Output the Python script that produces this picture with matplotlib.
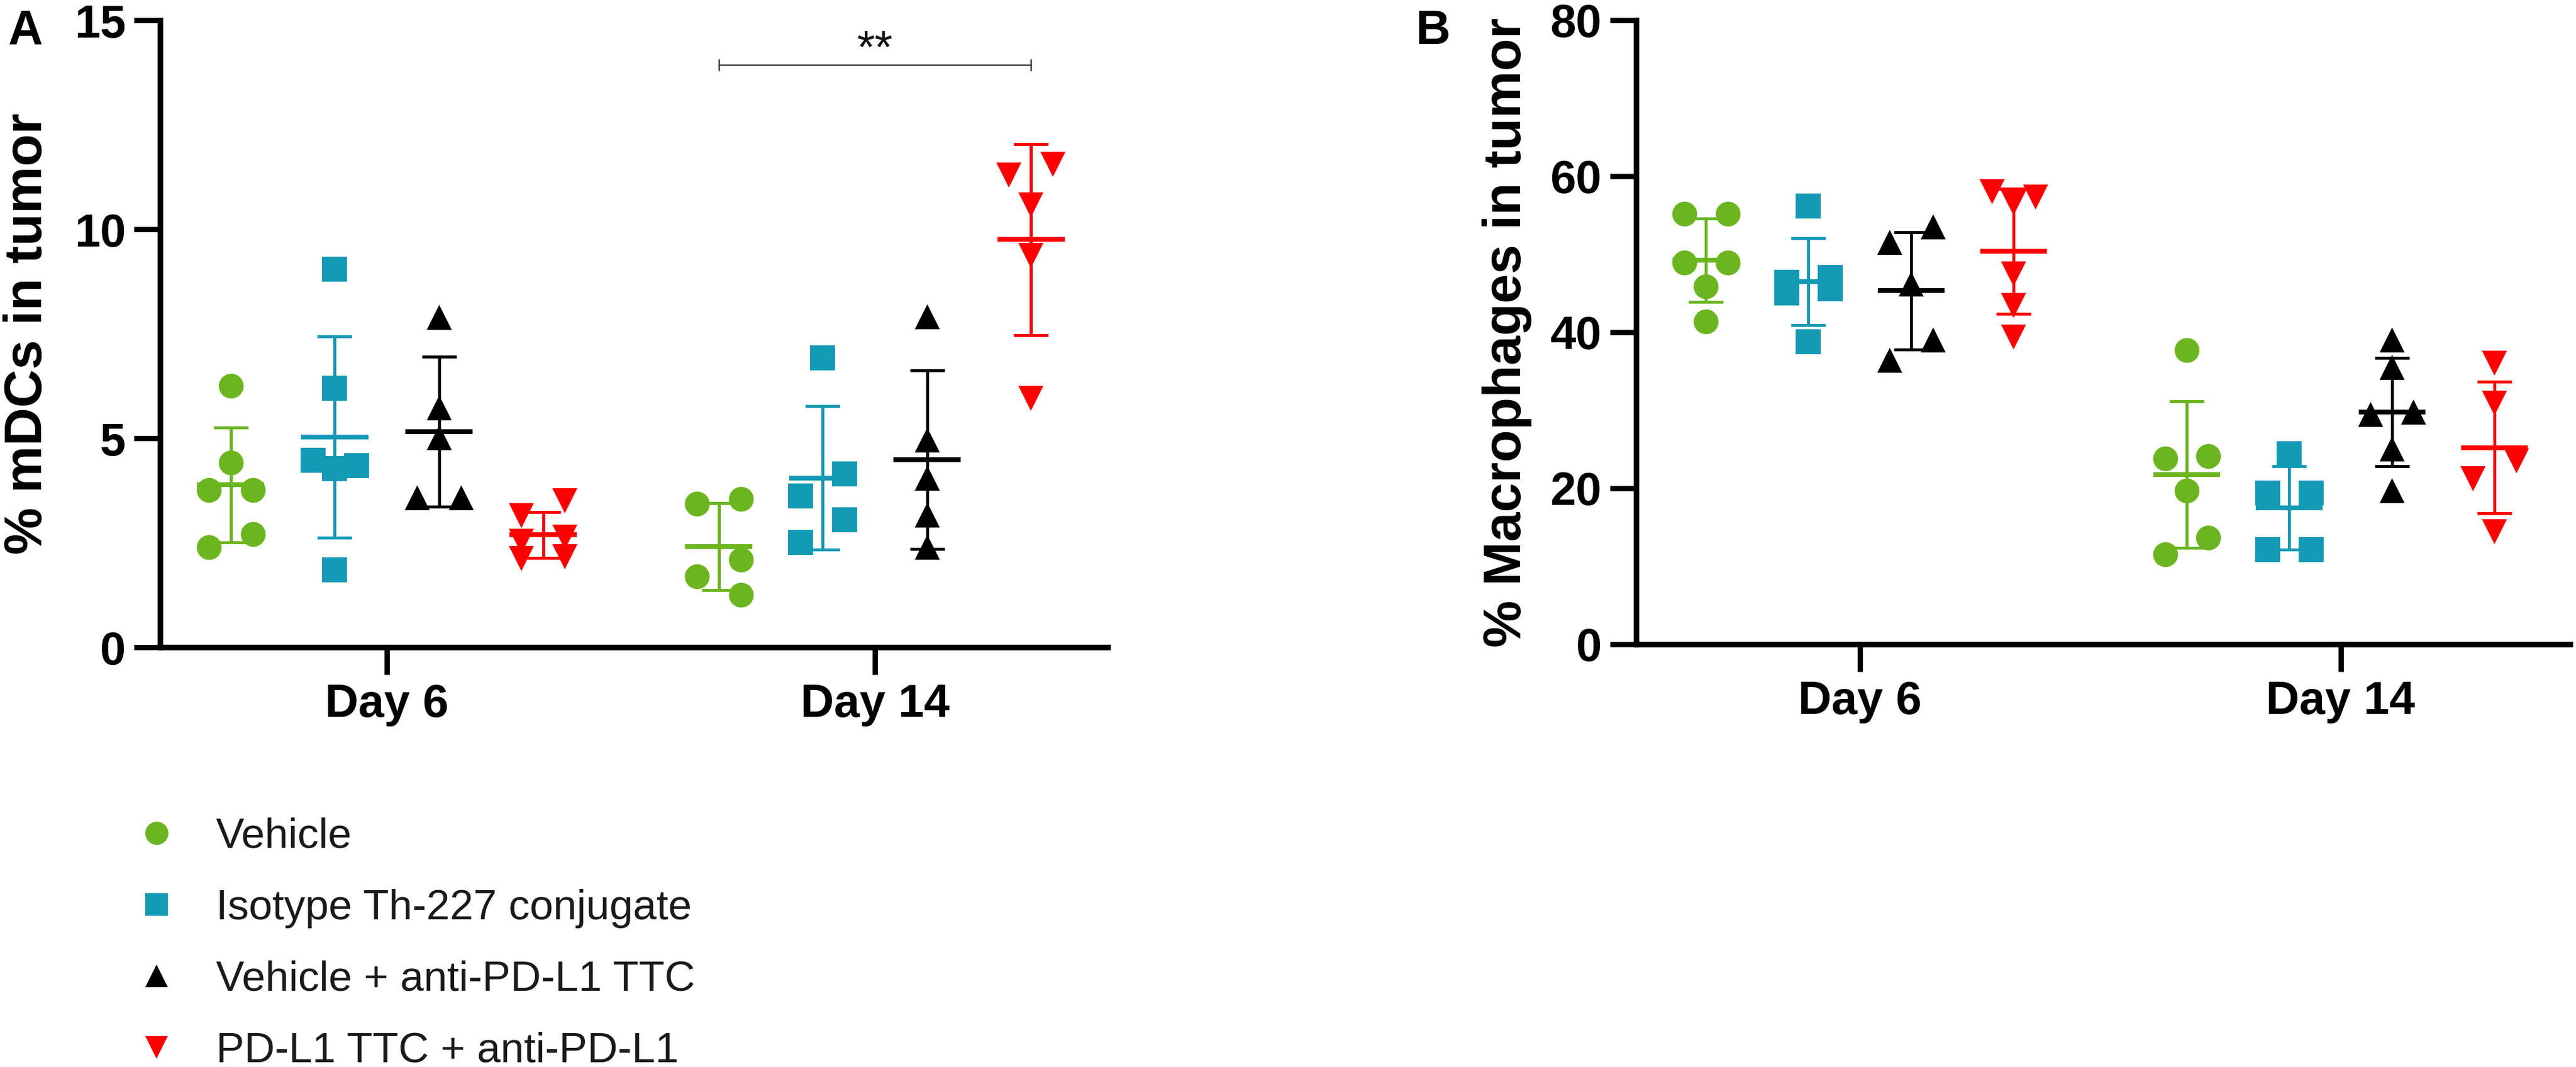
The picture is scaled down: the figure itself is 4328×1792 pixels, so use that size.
import numpy as np
import matplotlib.pyplot as plt

plt.rcParams['font.family'] = ['Liberation Sans', 'DejaVu Sans']
plt.rcParams['font.weight'] = 'bold'
plt.rcParams['axes.labelweight'] = 'bold'

groups = ['Vehicle', 'Isotype Th-227 conjugate', 'Vehicle + anti-PD-L1 TTC', 'PD-L1 TTC + anti-PD-L1']
colors = ['#6BB51F', '#139AB5', '#000000', '#FF0000']
markers = ['o', 's', '^', 'v']
days = ['Day 6', 'Day 14']

# panel A: % mDCs in tumor
mdc_d6_vehicle = [6.25, 4.42, 3.76, 3.76, 2.71, 2.40]
mdc_d6_isotype = [9.05, 6.20, 4.47, 4.34, 4.28, 1.85]
mdc_d6_veh_ttc = [7.89, 5.73, 5.02, 3.57, 3.57]
mdc_d6_ttc = [3.50, 3.15, 2.64, 2.54, 2.17, 2.12]
mdc_d14_vehicle = [3.55, 3.44, 2.09, 1.69, 1.25]
mdc_d14_isotype = [6.93, 4.15, 3.62, 3.05, 2.51]
mdc_d14_veh_ttc = [7.91, 4.96, 4.04, 3.16, 2.40]
mdc_d14_ttc = [11.56, 11.29, 10.58, 9.38, 5.95]

# panel B: % macrophages in tumor
mac_d6_vehicle = [55.2, 55.2, 48.9, 48.9, 45.9, 41.4]
mac_d6_isotype = [56.2, 47.0, 46.4, 45.6, 45.0, 38.8]
mac_d6_veh_ttc = [53.5, 51.5, 46.2, 39.0, 36.4]
mac_d6_ttc = [58.0, 57.3, 56.6, 47.5, 43.4, 39.4]
mac_d14_vehicle = [37.7, 24.1, 23.8, 19.7, 13.7, 11.5]
mac_d14_isotype = [24.4, 19.4, 19.4, 12.1, 12.1]
mac_d14_veh_ttc = [39.0, 35.5, 29.8, 29.5, 25.0, 19.7]
mac_d14_ttc = [36.0, 30.9, 23.5, 21.2, 14.4]

mdc = [[mdc_d6_vehicle, mdc_d6_isotype, mdc_d6_veh_ttc, mdc_d6_ttc],
       [mdc_d14_vehicle, mdc_d14_isotype, mdc_d14_veh_ttc, mdc_d14_ttc]]
mac = [[mac_d6_vehicle, mac_d6_isotype, mac_d6_veh_ttc, mac_d6_ttc],
       [mac_d14_vehicle, mac_d14_isotype, mac_d14_veh_ttc, mac_d14_ttc]]

group_off = np.array([-0.32, -0.107, 0.107, 0.32])


def spread(vals, thr, s):
    # prism-like scatter: neighbours closer than thr get pushed sideways
    vals = np.asarray(vals, float)
    order = np.argsort(-vals, kind='stable')
    off = np.zeros(len(vals))
    chains = []
    cur = [order[0]]
    for i in order[1:]:
        if vals[cur[-1]] - vals[i] < thr:
            cur.append(i)
        else:
            chains.append(cur)
            cur = [i]
    chains.append(cur)
    for c in chains:
        n = len(c)
        if n == 1:
            continue
        if n == 3 and vals[c[0]] - vals[c[-1]] < thr:
            pat = [-s, s, 0]
        else:
            pat = [s if k % 2 == 0 else -s for k in range(n)]
        for k, i in enumerate(c):
            off[i] = pat[k]
    return off


def panel(ax, data, ymax, yticks, ylabel):
    thr = 0.039 * ymax
    for d in range(2):
        for g in range(4):
            v = np.array(data[d][g])
            x0 = d + group_off[g]
            xs = x0 + spread(v, thr, 0.045)
            c = colors[g]
            ax.plot(xs, v, ls='none', marker=markers[g], ms=15, mfc=c, mec=c, mew=0, zorder=3)
            m = v.mean()
            sd = v.std(ddof=1)
            ax.errorbar(x0, m, yerr=sd, fmt='none', ecolor=c, elinewidth=1.8,
                        capsize=10.6, capthick=1.8, zorder=4)
            ax.hlines(m, x0 - 0.069, x0 + 0.069, color=c, lw=2.9, zorder=4)
    ax.set_xlim(-0.465, 1.477)
    ax.set_ylim(0, ymax)
    ax.set_yticks(yticks)
    ax.set_xticks([0, 1])
    ax.set_xticklabels(days)
    for s in ['top', 'right']:
        ax.spines[s].set_visible(False)
    for s in ['left', 'bottom']:
        ax.spines[s].set_linewidth(3.4)
    ax.tick_params(axis='y', length=15.8, width=3.2, labelsize=28, pad=5)
    ax.tick_params(axis='x', length=16.5, width=3.2, labelsize=28, pad=5)
    ax.set_ylabel(ylabel, fontsize=32, fontweight='bold')


fig = plt.figure(figsize=(21.64, 8.96), dpi=200)
axA = fig.add_axes([0.06215, 0.3934, 0.36784, 0.58761])
axB = fig.add_axes([0.63517, 0.39621, 0.36252, 0.58482])

panel(axA, mdc, 15, [0, 5, 10, 15], '% mDCs in tumor')
panel(axB, mac, 80, [0, 20, 40, 60, 80], '% Macrophages in tumor')
axA.yaxis.set_label_coords(-0.113, 0.5)
axB.yaxis.set_label_coords(-0.1115, 0.5)

# significance bracket, day 14 vehicle vs PD-L1 TTC
xa = 1 + group_off[0]
xb = 1 + group_off[3]
yb = 13.93
axA.plot([xa, xb], [yb, yb], color='#404040', lw=0.9, zorder=5)
axA.vlines([xa, xb], yb - 0.14, yb + 0.14, color='#404040', lw=0.9, zorder=5)
axA.text((xa + xb) / 2, yb + 0.05, '**', ha='center', va='baseline', fontsize=28,
         fontweight='normal', color='#111111')

# overlay in pixel coords for panel letters and legend
ov = fig.add_axes([0, 0, 1, 1])
ov.set_xlim(0, 4328)
ov.set_ylim(1792, 0)
ov.axis('off')
ov.text(43, 74, 'A', ha='center', va='baseline', fontsize=29, fontweight='bold')
ov.text(2408, 74, 'B', ha='center', va='baseline', fontsize=29, fontweight='bold')

for i, name in enumerate(groups):
    y = 1399 + i * 120
    ov.plot([263], [y], ls='none', marker=markers[i], ms=14, mfc=colors[i], mec=colors[i], mew=0)
    ov.text(363, y + 25, name, ha='left', va='baseline', fontsize=25.5,
            fontweight='normal', color='#1a1a1a')

fig.savefig('out.png', dpi=200)
